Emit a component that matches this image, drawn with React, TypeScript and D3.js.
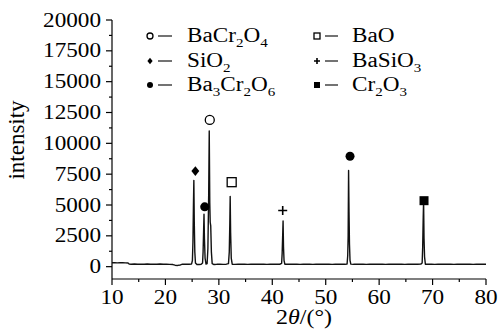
import React from 'react';
import * as d3 from 'd3';

const xTicks = [10, 20, 30, 40, 50, 60, 70, 80];
const yTicks = [0, 2500, 5000, 7500, 10000, 12500, 15000, 17500, 20000];

// 2θ (deg) and counts
const twoTheta = [
  10, 10.5, 11, 11.5, 12, 12.5, 13, 13.2, 13.6, 14.2, 14.8, 15.4, 16, 16.6, 17.2, 17.8, 18.4, 19, 19.6, 20.2,
  20.8, 21.4, 21.8, 22.3, 22.8, 23.2, 23.8, 24.4, 24.9, 25.05, 25.15, 25.25, 25.32, 25.4, 25.5, 25.62, 25.9, 26.3,
  26.7, 26.95, 27.05, 27.15, 27.22, 27.3, 27.42, 27.6, 27.8, 27.95, 28.1, 28.2, 28.3, 28.38, 28.48, 28.6, 28.75,
  29.1, 29.6, 30.2, 30.8, 31.4, 31.8, 31.95, 32.05, 32.12, 32.2, 32.32, 32.5, 33, 33.6, 34.2, 34.8, 35.4, 36, 36.6,
  37.2, 37.8, 38.4, 39, 39.6, 40.2, 40.8, 41.4, 41.75, 41.85, 41.95, 42.02, 42.1, 42.2, 42.35, 42.8, 43.4, 44, 44.6,
  45.2, 45.8, 46.4, 47, 47.6, 48.2, 48.8, 49.4, 50, 50.6, 51.2, 51.8, 52.4, 53, 53.6, 54, 54.12, 54.2, 54.28, 54.36,
  54.45, 54.55, 54.7, 55.2, 55.8, 56.4, 57, 57.6, 58.2, 58.8, 59.4, 60, 60.6, 61.2, 61.8, 62.4, 63, 63.6, 64.2, 64.8,
  65.4, 66, 66.6, 67.2, 67.8, 68.05, 68.15, 68.25, 68.32, 68.4, 68.5, 68.65, 69.2, 69.8, 70.4, 71, 71.6, 72.2, 72.8,
  73.4, 74, 74.6, 75.2, 75.8, 76.4, 77, 77.6, 78.2, 78.8, 79.4, 80,
];
const counts = [
  320, 330, 310, 320, 330, 310, 300, 220, 200, 215, 195, 210, 200, 215, 195, 210, 200, 215, 195, 210,
  190, 170, 120, 100, 140, 200, 210, 195, 220, 500, 2000, 5200, 7000, 3600, 1200, 300, 170, 180,
  200, 300, 1200, 3000, 4250, 2300, 700, 210, 240, 1500, 6000, 11000, 5200, 3600, 3300, 1200, 250,
  170, 190, 200, 185, 200, 250, 1200, 3500, 5700, 2800, 700, 200, 185, 200, 190, 205, 185, 200, 190,
  205, 190, 200, 185, 205, 190, 200, 195, 260, 1100, 2600, 3700, 1600, 500, 200, 190, 205, 190, 200,
  185, 205, 190, 200, 185, 205, 190, 200, 190, 205, 185, 200, 195, 205, 190, 220, 900, 2500, 7800, 4500,
  1800, 500, 210, 190, 205, 190, 200, 185, 205, 190, 200, 190, 205, 185, 200, 190, 205, 190, 200, 185,
  205, 190, 200, 190, 205, 300, 1600, 4000, 5300, 2300, 800, 200, 190, 205, 185, 200, 190, 205, 190,
  200, 185, 205, 190, 200, 190, 205, 185, 200, 190, 205, 195,
];

// legend: symbol + label parts (text, subscript?)
const legendCol1 = [
  { sym: 'openCircle', parts: [['BaCr', false], ['2', true], ['O', false], ['4', true]] },
  { sym: 'diamond', parts: [['SiO', false], ['2', true]] },
  { sym: 'dot', parts: [['Ba', false], ['3', true], ['Cr', false], ['2', true], ['O', false], ['6', true]] },
];
const legendCol2 = [
  { sym: 'openSquare', parts: [['BaO', false]] },
  { sym: 'plus', parts: [['BaSiO', false], ['3', true]] },
  { sym: 'square', parts: [['Cr', false], ['2', true], ['O', false], ['3', true]] },
];

// peak markers: phase symbol, 2θ, intensity
const markSym = ['openCircle', 'diamond', 'dot', 'openSquare', 'plus', 'dot', 'square'];
const markX = [28.3, 25.6, 27.35, 32.4, 41.95, 54.55, 68.4];
const markY = [11900, 7750, 4850, 6850, 4550, 8950, 5350];

const W = 501;
const H = 336;
const FONT = "'Liberation Serif', 'Times New Roman', serif";
const SX = 1.16;

const Symbol = ({ kind, x, y, s }: { kind: string; x: number; y: number; s: number }) => {
  const c = '#000';
  if (kind === 'openCircle') return <circle cx={x} cy={y} r={s * 0.5} fill="#fff" stroke={c} strokeWidth={1.3} />;
  if (kind === 'dot') return <circle cx={x} cy={y} r={s * 0.5} fill={c} />;
  if (kind === 'openSquare')
    return <rect x={x - s / 2} y={y - s / 2} width={s} height={s} fill="#fff" stroke={c} strokeWidth={1.3} />;
  if (kind === 'square') return <rect x={x - s / 2} y={y - s / 2} width={s} height={s} fill={c} />;
  if (kind === 'diamond') {
    const r = s * 0.55;
    return <path d={`M${x},${y - r}L${x + r * 0.8},${y}L${x},${y + r}L${x - r * 0.8},${y}Z`} fill={c} />;
  }
  const r = s * 0.5;
  return <path d={`M${x - r},${y}H${x + r}M${x},${y - r}V${y + r}`} stroke={c} strokeWidth={1.6} />;
};

const Label = ({ x, y, parts, size }: { x: number; y: number; parts: any[]; size: number }) => {
  let shift = 0;
  return (
    <text transform={`translate(${x},${y}) scale(${SX},1)`} fontFamily={FONT} fontSize={size} fill="#000">
      {parts.map(([t, sub], i) => {
        const dy = sub ? 5 - shift : -shift;
        shift = sub ? 5 : 0;
        return (
          <tspan key={i} dy={dy} fontSize={sub ? size * 0.65 : size}>
            {t}
          </tspan>
        );
      })}
    </text>
  );
};

export default function App() {
  const x = d3.scaleLinear().domain([10, 80]).range([112, 486]);
  const y = d3.scaleLinear().domain([-1000, 20000]).range([279, 20]);

  const pts = twoTheta.map((t, i) => [t, counts[i]] as [number, number]);
  const line = d3
    .line<[number, number]>()
    .x((d) => x(d[0]))
    .y((d) => y(d[1]));

  const xMinor = d3.range(15, 80, 10);
  const yMinor = d3.range(1250, 20000, 2500);

  const rowY = [42, 67, 91];

  return (
    <svg width={W} height={H} style={{ position: 'absolute', left: 0, top: 0, background: '#fff' }}>
      <rect width={W} height={H} fill="#fff" />
      {/* axes */}
      <g stroke="#000" strokeWidth={1.2}>
        <line x1={112} x2={112} y1={y(20000)} y2={279} />
        <line x1={112} x2={486} y1={279} y2={279} />
        {yTicks.map((v) => (
          <line key={'yt' + v} x1={106} x2={112} y1={y(v)} y2={y(v)} />
        ))}
        {yMinor.map((v) => (
          <line key={'ym' + v} x1={109} x2={112} y1={y(v)} y2={y(v)} />
        ))}
        {xTicks.map((v) => (
          <line key={'xt' + v} x1={x(v)} x2={x(v)} y1={279} y2={285} />
        ))}
        {xMinor.map((v) => (
          <line key={'xm' + v} x1={x(v)} x2={x(v)} y1={279} y2={282} />
        ))}
      </g>
      {yTicks.map((v) => (
        <text
          key={'yl' + v}
          transform={`translate(101,${y(v) + 6.5}) scale(${SX},1)`}
          textAnchor="end"
          fontFamily={FONT}
          fontSize={20}
        >
          {v}
        </text>
      ))}
      {xTicks.map((v) => (
        <text
          key={'xl' + v}
          transform={`translate(${x(v)},304) scale(${SX},1)`}
          textAnchor="middle"
          fontFamily={FONT}
          fontSize={20}
        >
          {v}
        </text>
      ))}
      <text transform={`translate(304,324) scale(1.2,1)`} textAnchor="middle" fontFamily={FONT} fontSize={20}>
        2<tspan fontStyle="italic">θ</tspan>/(°)
      </text>
      <text transform="translate(24,140) rotate(-90)" textAnchor="middle" fontFamily={FONT} fontSize={23}>
        intensity
      </text>

      <path d={line(pts) ?? ''} fill="none" stroke="#111" strokeWidth={1.4} strokeLinejoin="round" />

      {markSym.map((s, i) => (
        <Symbol key={'m' + i} kind={s} x={x(markX[i])} y={y(markY[i])} s={9} />
      ))}

      {legendCol1.map((d, i) => (
        <g key={'l1' + i}>
          <Symbol kind={d.sym} x={150} y={rowY[i] - 6} s={6} />
          <line x1={158} x2={172} y1={rowY[i] - 6} y2={rowY[i] - 6} stroke="#000" strokeWidth={1.1} />
          <Label x={187} y={rowY[i]} parts={d.parts} size={20} />
        </g>
      ))}
      {legendCol2.map((d, i) => (
        <g key={'l2' + i}>
          <Symbol kind={d.sym} x={317} y={rowY[i] - 6} s={6} />
          <line x1={325} x2={338} y1={rowY[i] - 6} y2={rowY[i] - 6} stroke="#000" strokeWidth={1.1} />
          <Label x={352} y={rowY[i]} parts={d.parts} size={20} />
        </g>
      ))}
    </svg>
  );
}
